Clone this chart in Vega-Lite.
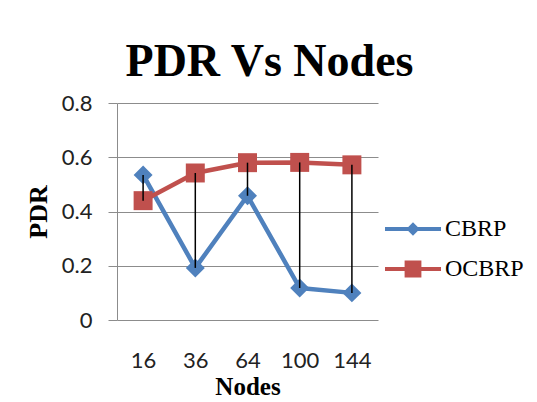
{
  "$schema": "https://vega.github.io/schema/vega-lite/v6.json",
  "width": 261,
  "height": 217,
  "autosize": {"type": "none"},
  "padding": {"left": 117, "top": 103, "right": 159, "bottom": 82},
  "background": "white",
  "title": {
    "text": "PDR Vs Nodes",
    "font": "Liberation Serif",
    "fontSize": 46,
    "fontWeight": "bold",
    "color": "black",
    "anchor": "middle",
    "frame": "group",
    "baseline": "alphabetic",
    "offset": -30,
    "dx": 22
  },
  "data": {
    "values": [
      {"nodes": "16", "CBRP": 0.535, "OCBRP": 0.44},
      {"nodes": "36", "CBRP": 0.192, "OCBRP": 0.542},
      {"nodes": "64", "CBRP": 0.458, "OCBRP": 0.58},
      {"nodes": "100", "CBRP": 0.118, "OCBRP": 0.581},
      {"nodes": "144", "CBRP": 0.1, "OCBRP": 0.572}
    ]
  },
  "encoding": {
    "x": {
      "field": "nodes",
      "type": "ordinal",
      "sort": ["16", "36", "64", "100", "144"],
      "scale": {"type": "point", "padding": 0.5},
      "axis": {
        "title": "Nodes",
        "labelAngle": 0,
        "labelFont": "Lato",
        "labelFontSize": 22,
        "labelColor": "#222222",
        "labelPadding": 30,
        "ticks": false,
        "domain": false,
        "grid": false,
        "titleFont": "Liberation Serif",
        "titleFontSize": 25,
        "titleFontWeight": "bold",
        "titleColor": "black",
        "titlePadding": 3
      }
    }
  },
  "layer": [
    {
      "transform": [{"fold": ["CBRP", "OCBRP"], "as": ["series", "pdr"]}],
      "mark": {"type": "line", "strokeWidth": 4.5, "strokeCap": "round", "strokeJoin": "round"},
      "encoding": {
        "y": {
          "field": "pdr",
          "type": "quantitative",
          "scale": {"domain": [0, 0.8]},
          "axis": {
            "title": "PDR",
            "values": [0, 0.2, 0.4, 0.6, 0.8],
            "format": "~g",
            "labelFont": "Lato",
            "labelFontSize": 22,
            "labelColor": "#222222",
            "labelPadding": 16,
            "tickSize": 9,
            "tickColor": "#8c8c8c",
            "domainColor": "#8c8c8c",
            "gridColor": "#8c8c8c",
            "grid": true,
            "titleFont": "Liberation Serif",
            "titleFontSize": 26,
            "titleFontWeight": "bold",
            "titleColor": "black",
            "titlePadding": 10
          }
        },
        "color": {
          "field": "series",
          "type": "nominal",
          "scale": {"domain": ["CBRP", "OCBRP"], "range": ["#4F81BD", "#C0504D"]},
          "legend": null
        },
        "detail": {"field": "series"}
      }
    },
    {
      "transform": [{"fold": ["CBRP", "OCBRP"], "as": ["series", "pdr"]}],
      "mark": {"type": "point", "filled": true, "opacity": 1, "size": 360},
      "encoding": {
        "y": {"field": "pdr", "type": "quantitative"},
        "color": {
          "field": "series",
          "type": "nominal",
          "scale": {"domain": ["CBRP", "OCBRP"], "range": ["#4F81BD", "#C0504D"]},
          "legend": null
        },
        "shape": {
          "field": "series",
          "type": "nominal",
          "scale": {"domain": ["CBRP", "OCBRP"], "range": ["diamond", "square"]},
          "legend": null
        }
      }
    },
    {
      "mark": {"type": "rule", "color": "black", "strokeWidth": 1.5},
      "encoding": {
        "y": {"field": "CBRP", "type": "quantitative"},
        "y2": {"field": "OCBRP"}
      }
    },
    {
      "transform": [
        {"fold": ["CBRP", "OCBRP"], "as": ["series", "pdr"]},
        {"filter": "false"}
      ],
      "mark": {"type": "point", "filled": true, "opacity": 1, "strokeWidth": 0},
      "encoding": {
        "y": {"field": "pdr", "type": "quantitative"},
        "color": {
          "field": "series",
          "type": "nominal",
          "scale": {"domain": ["CBRP", "OCBRP"], "range": ["#4F81BD", "#C0504D"]},
          "legend": {
            "title": null,
            "orient": "none",
            "legendX": 268,
            "legendY": 98,
            "symbolSize": 3136,
            "symbolStrokeWidth": 0,
            "rowPadding": -16,
            "labelOffset": 4,
            "labelFont": "Liberation Serif",
            "labelFontSize": 24,
            "labelColor": "black",
            "padding": 0
          }
        },
        "shape": {
          "field": "series",
          "type": "nominal",
          "scale": {
            "domain": ["CBRP", "OCBRP"],
            "range": [
              "M-1,-0.07H1V0.07H-1Z M0,-0.24L0.24,0L0,0.24L-0.24,0Z",
              "M-1,-0.07H1V0.07H-1Z M-0.3,-0.3H0.3V0.3H-0.3Z"
            ]
          },
          "legend": {
            "title": null,
            "orient": "none",
            "legendX": 268,
            "legendY": 98,
            "symbolSize": 3136,
            "symbolStrokeWidth": 0,
            "rowPadding": -16,
            "labelOffset": 4,
            "labelFont": "Liberation Serif",
            "labelFontSize": 24,
            "labelColor": "black",
            "padding": 0
          }
        }
      }
    }
  ],
  "resolve": {
    "scale": {"color": "independent", "shape": "independent"},
    "legend": {"color": "independent", "shape": "independent"}
  },
  "config": {
    "view": {"stroke": null},
    "axis": {"gridWidth": 1}
  }
}
